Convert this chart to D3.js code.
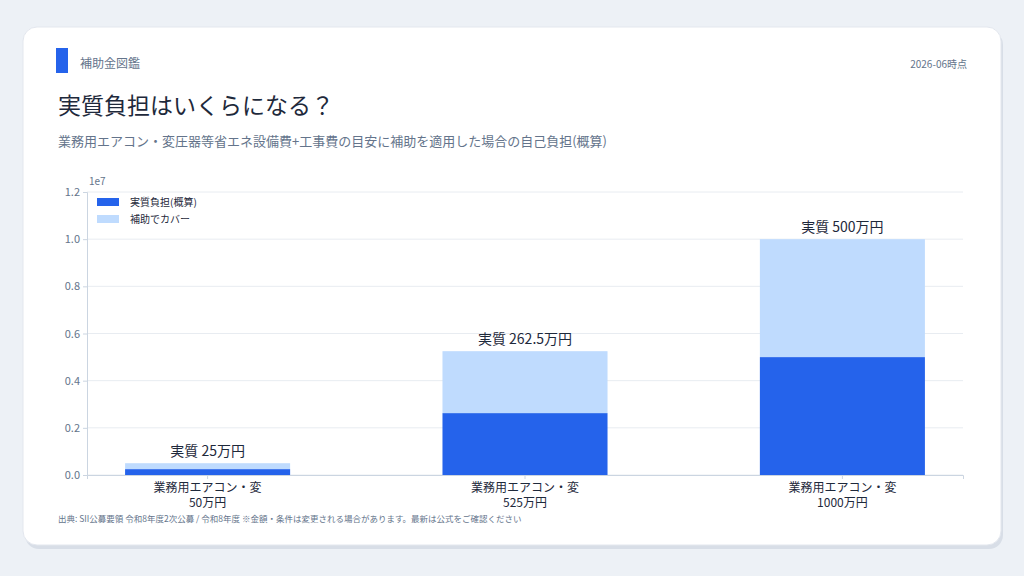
<!DOCTYPE html><html><head><meta charset="utf-8"><script src="https://cdn.jsdelivr.net/npm/d3@7"></script>
<style>body{margin:0;background:#edf1f6;font-family:"Noto Sans CJK JP","Noto Sans",sans-serif}</style></head><body>
<svg id="c" width="1024" height="576"></svg>
<script>
const categories=["業務用エアコン・変\n50万円","業務用エアコン・変\n525万円","業務用エアコン・変\n1000万円"];
const selfPay=[250000,2625000,5000000];
const covered=[250000,2625000,5000000];
const labels=["実質 25万円","実質 262.5万円","実質 500万円"];
const yTicks=[0,0.2,0.4,0.6,0.8,1.0,1.2];
const svg=d3.select("#c");const F='"Noto Sans CJK JP",sans-serif';
svg.append("rect").attr("x",25).attr("y",31).attr("width",978).attr("height",518).attr("rx",14).attr("fill","#d8dee7");
svg.append("rect").attr("x",23).attr("y",27).attr("width",978).attr("height",518).attr("rx",14).attr("fill","#fff").attr("stroke","#e3e7ee");
svg.append("rect").attr("x",56).attr("y",48).attr("width",12).attr("height",25).attr("fill","#2563eb");
svg.append("text").attr("x",80).attr("y",68).text("補助金図鑑").attr("font-size",12).attr("fill","#64748b").attr("font-family",F);
svg.append("text").attr("x",967).attr("y",68).attr("text-anchor","end").text("2026-06時点").attr("font-size",10).attr("fill","#64748b").attr("font-family",F);
svg.append("text").attr("x",58).attr("y",114).text("実質負担はいくらになる？").attr("font-size",23).attr("fill","#1e293b").attr("font-family",F);
svg.append("text").attr("x",58).attr("y",146).text("業務用エアコン・変圧器等省エネ設備費+工事費の目安に補助を適用した場合の自己負担(概算)").attr("font-size",13).attr("fill","#64748b").attr("font-family",F);
const x=d3.scaleBand().domain(categories).range([87,963]).paddingInner(0.48).paddingOuter(0.12);
const y=d3.scaleLinear().domain([0,1.2e7]).range([475,192]);
const g=svg.append("g");
yTicks.forEach(t=>{g.append("line").attr("x1",87).attr("x2",963).attr("y1",y(t*1e7)).attr("y2",y(t*1e7)).attr("stroke","#e8ecf1");});
const ya=svg.append("g").attr("transform","translate(87,0)").call(d3.axisLeft(y).tickValues(yTicks.map(t=>t*1e7)).tickFormat(d=>(d/1e7).toFixed(1)).tickSize(4));
ya.selectAll("text").attr("font-size",11).attr("fill","#64748b").attr("font-family",F);
ya.selectAll("line,path").attr("stroke","#cbd5e1");
svg.append("text").attr("x",89).attr("y",185).text("1e7").attr("font-size",10).attr("fill","#64748b").attr("font-family",F);
categories.forEach((c,i)=>{
 svg.append("rect").attr("x",x(c)).attr("width",x.bandwidth()).attr("y",y(selfPay[i])).attr("height",y(0)-y(selfPay[i])).attr("fill","#2563eb");
 svg.append("rect").attr("x",x(c)).attr("width",x.bandwidth()).attr("y",y(selfPay[i]+covered[i])).attr("height",y(selfPay[i])-y(selfPay[i]+covered[i])).attr("fill","#bfdbfe");
 svg.append("text").attr("x",x(c)+x.bandwidth()/2).attr("y",y(selfPay[i]+covered[i])-7).attr("text-anchor","middle").text(labels[i]).attr("font-size",14).attr("fill","#1e293b").attr("font-family",F);
});
const xa=svg.append("g").attr("transform","translate(0,475)").call(d3.axisBottom(x).tickSize(4).tickFormat(""));
xa.selectAll("line,path").attr("stroke","#cbd5e1");
categories.forEach(c=>{c.split("\n").forEach((l,j)=>svg.append("text").attr("x",x(c)+x.bandwidth()/2).attr("y",492+j*15).attr("text-anchor","middle").text(l).attr("font-size",12).attr("fill","#1e293b").attr("font-family",F));});
const leg=[["実質負担(概算)","#2563eb"],["補助でカバー","#bfdbfe"]];
leg.forEach((l,i)=>{svg.append("rect").attr("x",97).attr("y",198+i*17).attr("width",22).attr("height",8).attr("fill",l[1]);
 svg.append("text").attr("x",130).attr("y",206+i*17).text(l[0]).attr("font-size",10).attr("fill","#1e293b").attr("font-family",F);});
svg.append("text").attr("x",58).attr("y",522).text("出典: SII公募要領 令和8年度2次公募 / 令和8年度 ※金額・条件は変更される場合があります。最新は公式をご確認ください").attr("font-size",8.5).attr("fill","#64748b").attr("font-family",F);
</script></body></html>
